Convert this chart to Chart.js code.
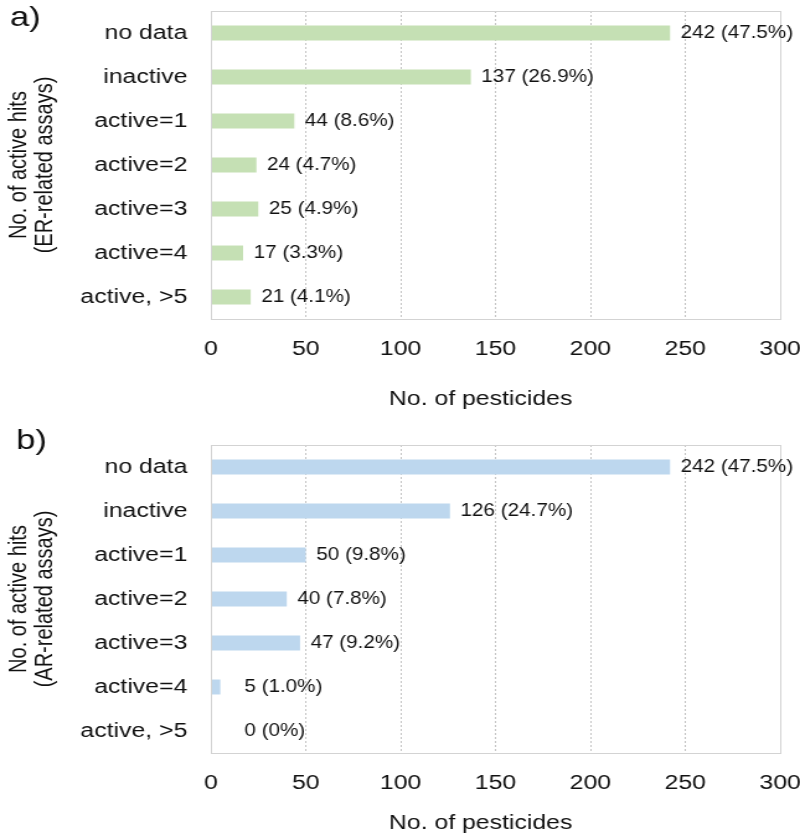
<!DOCTYPE html>
<html><head><meta charset="utf-8">
<script src="https://cdn.jsdelivr.net/npm/chart.js@4.4.0/dist/chart.umd.min.js"></script>
<style>
html,body{margin:0;padding:0;background:#fff;}
#wrap{position:relative;width:800px;height:838px;overflow:hidden;background:#fff;}
canvas{position:absolute;left:0;}
</style></head><body>
<div id="wrap">
<canvas id="ca" width="645" height="420" style="top:0px;width:800px;height:420px"></canvas>
<canvas id="cb" width="645" height="418" style="top:420px;width:800px;height:418px"></canvas>
</div>
<script>
// ---- data ----
const categories = ['no data', 'inactive', 'active=1', 'active=2', 'active=3', 'active=4', 'active, >5'];
const erCounts = [242, 137, 44, 24, 25, 17, 21];
const erPercents = ['47.5%', '26.9%', '8.6%', '4.7%', '4.9%', '3.3%', '4.1%'];
const arCounts = [242, 126, 50, 40, 47, 5, 0];
const arPercents = ['47.5%', '24.7%', '9.8%', '7.8%', '9.2%', '1.0%', '0%'];
const xTicks = [0, 50, 100, 150, 200, 250, 300];
const panelLabels = ['a)', 'b)'];
const yTitleER = ['No. of active hits', '(ER-related assays)'];
const yTitleAR = ['No. of active hits', '(AR-related assays)'];
const xTitle = 'No. of pesticides';

const FONT = "'Liberation Sans', Arial, Helvetica, sans-serif";
const TEXT = '#111111';
Chart.defaults.font.family = FONT;
Chart.defaults.color = TEXT;

const decorPlugin = {
  id: 'decor',
  beforeDraw(chart) {
    const s = chart.scales.x;
    if (s && !s._titleShifted) {
      const orig = s.drawTitle.bind(s);
      s.drawTitle = function () {
        this.ctx.save();
        this.ctx.translate(-12, 0);
        orig();
        this.ctx.restore();
      };
      s._titleShifted = true;
    }
  },
  afterDraw(chart, args, opts) {
    const ctx = chart.ctx;
    const a = chart.chartArea;
    // plot frame
    ctx.save();
    ctx.strokeStyle = '#d3d3d3';
    ctx.lineWidth = 1;
    ctx.strokeRect(Math.round(a.left) + 0.5, Math.round(a.top) + 0.5,
                   Math.round(a.right - a.left), Math.round(a.bottom - a.top));
    ctx.restore();
    // panel letter
    ctx.save();
    ctx.fillStyle = TEXT;
    ctx.font = '28px ' + FONT;
    ctx.textBaseline = 'alphabetic';
    ctx.textAlign = 'left';
    ctx.fillText(opts.panel, opts.px, opts.py);
    ctx.restore();
    // value labels
    const meta = chart.getDatasetMeta(0);
    const xs = chart.scales.x;
    const minX = xs.getPixelForValue(0) + 27;
    ctx.save();
    ctx.fillStyle = TEXT;
    ctx.font = '18.5px ' + FONT;
    ctx.textBaseline = 'middle';
    ctx.textAlign = 'left';
    meta.data.forEach((bar, i) => {
      const txt = opts.counts[i] + ' (' + opts.pcts[i] + ')';
      const x = Math.max(bar.x + 8.5, minX);
      ctx.save();
      ctx.translate(x, bar.y - 0.5);
      ctx.scale(0.9, 1);
      ctx.fillText(txt, 0, 0);
      ctx.restore();
    });
    ctx.restore();
  }
};

function makeChart(id, counts, pcts, color, yTitle, panel, cfg) {
  return new Chart(document.getElementById(id), {
    type: 'bar',
    data: {
      labels: categories,
      datasets: [{ data: counts, backgroundColor: color, borderWidth: 0,
                   barPercentage: 0.34, categoryPercentage: 1.0 }]
    },
    options: {
      indexAxis: 'y',
      responsive: false,
      animation: false,
      devicePixelRatio: 1,
      layout: { padding: { top: cfg.padTop, right: 16, left: 0, bottom: 0 } },
      plugins: {
        legend: { display: false },
        tooltip: { enabled: false },
        decor: { panel: panel, px: cfg.px, py: cfg.py, counts: counts, pcts: pcts }
      },
      scales: {
        x: {
          type: 'linear', min: 0, max: 300,
          afterBuildTicks: s => { s.ticks = xTicks.map(v => ({ value: v })); },
          afterFit: s => { s.height = cfg.xHeight; s.paddingLeft = 0; s.paddingRight = 0; },
          grid: { display: true, drawTicks: false, color: '#c4c4c4', lineWidth: 1 },
          border: { display: false, dash: [2, 2] },
          ticks: { font: { size: 20 }, color: TEXT, padding: 18, maxRotation: 0 },
          title: { display: true, text: xTitle, font: { size: 20 }, color: TEXT,
                   padding: { top: 0, bottom: cfg.titlePadBottom } }
        },
        y: {
          type: 'category',
          afterFit: s => { s.width = 170; s.paddingTop = 0; s.paddingBottom = 0; },
          grid: { display: false, drawTicks: false },
          border: { display: false },
          ticks: { font: { size: 20 }, color: TEXT, padding: 19 },
          title: { display: true, text: yTitle, font: { size: 20, lineHeight: 1.05 }, color: TEXT,
                   padding: { top: 4.8, bottom: 0 } }
        }
      }
    },
    plugins: [decorPlugin]
  });
}

makeChart('ca', erCounts, erPercents, '#c5e0b4', yTitleER, panelLabels[0],
  { padTop: 11, xHeight: 101, titlePadBottom: 8.4, px: 8, py: 26 });
makeChart('cb', arCounts, arPercents, '#bdd7ee', yTitleAR, panelLabels[1],
  { padTop: 25, xHeight: 85, titlePadBottom: 2.4, px: 13, py: 29 });
</script>
</body></html>
